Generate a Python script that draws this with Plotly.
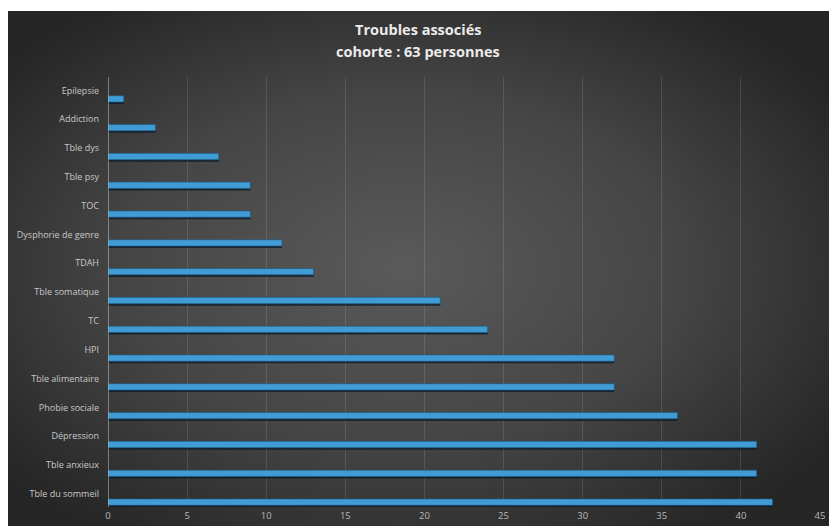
import base64
import plotly.graph_objects as go

categories = ["Tble du sommeil", "Tble anxieux", "Dépression", "Phobie sociale",
              "Tble alimentaire", "HPI", "TC", "Tble somatique", "TDAH",
              "Dysphorie de genre", "TOC", "Tble psy", "Tble dys", "Addiction", "Epilepsie"]
values = [42, 41, 41, 36, 32, 32, 24, 21, 13, 11, 9, 9, 7, 3, 1]
x_ticks = [0, 5, 10, 15, 20, 25, 30, 35, 40, 45]
title_lines = ["Troubles associés", "cohorte : 63 personnes"]

W, H = 829, 526
L, R, T, B = 108, 9, 77, 19
pw, ph = W - L - R, H - T - B

pos = list(range(len(categories)))
label_pos = [p + 0.29 for p in pos]

svg = ('<svg xmlns="http://www.w3.org/2000/svg" width="821" height="515" viewBox="0 0 821 515" preserveAspectRatio="none">'
       '<defs><radialGradient id="g" cx="0.48" cy="0.5" r="0.62">'
       '<stop offset="0" stop-color="#5a5a5a"/><stop offset="0.55" stop-color="#454545"/>'
       '<stop offset="1" stop-color="#262626"/></radialGradient></defs>'
       '<rect width="821" height="515" fill="url(#g)"/></svg>')
src = "data:image/svg+xml;base64," + base64.b64encode(svg.encode()).decode()

fig = go.Figure()
# shadow
fig.add_trace(go.Bar(
    y=[p - 0.06 for p in pos], x=values, orientation="h", width=0.24,
    marker=dict(color="rgba(10,25,40,0.75)", line=dict(width=0)),
    hoverinfo="skip", showlegend=False))
fig.add_trace(go.Bar(
    y=pos, x=values, orientation="h", width=0.22,
    marker=dict(color="#409cd4", line=dict(color="#1f5678", width=0.6)),
    showlegend=False))

annotations = []
for i, (txt, ypx) in enumerate(zip(title_lines, [30, 52])):
    annotations.append(dict(
        text="<b>" + txt + "</b>", xref="paper", yref="paper",
        x=(418 - L) / pw, y=(H - B - ypx) / ph, xanchor="center", yanchor="middle",
        showarrow=False, font=dict(family="Open Sans", size=14.5, color="#ececec")))

fig.update_layout(
    width=W, height=H,
    margin=dict(l=L, r=R, t=T, b=B, autoexpand=False),
    paper_bgcolor="white", plot_bgcolor="rgba(0,0,0,0)",
    barmode="overlay",
    annotations=annotations,
    xaxis=dict(range=[0, 45], tickvals=x_ticks, showgrid=True, automargin=False,
               gridcolor="rgba(255,255,255,0.12)", gridwidth=1, zeroline=False,
               showline=False, ticks="", ticklabelstandoff=1,
               tickfont=dict(family="Open Sans", size=9.5, color="#b8b8b8")),
    yaxis=dict(range=[-0.17, 14.76], tickvals=label_pos, ticktext=categories,
               showgrid=False, zeroline=False, showline=False, ticks="", automargin=False,
               ticklabelstandoff=8,
               tickfont=dict(family="Open Sans", size=9, color="#c8c8c8")),
    images=[dict(source=src, xref="paper", yref="paper",
                 x=(8 - L) / pw, y=(H - B - 11) / ph,
                 sizex=(W - 8) / pw, sizey=(H - 11) / ph,
                 xanchor="left", yanchor="top", sizing="stretch", layer="below")],
    shapes=[dict(type="line", xref="x", yref="paper", x0=0, x1=0, y0=0, y1=1,
                 line=dict(color="#c8c8c8", width=1))],
)

fig.write_html("out.html")
